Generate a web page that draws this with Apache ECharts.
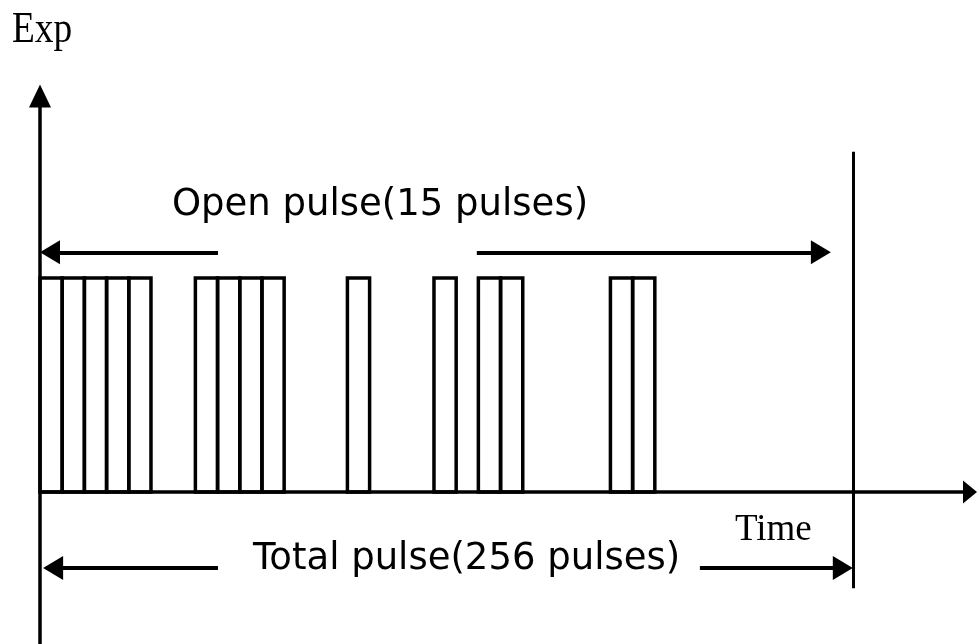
<!DOCTYPE html>
<html lang="en">
<head>
    <meta charset="UTF-8">
    <title>Open pulse / Total pulse</title>
    <style>
        html, body { margin: 0; padding: 0; background: #fff; }
        #app { width: 977px; height: 644px; }
    </style>
    <script src="https://cdn.jsdelivr.net/npm/echarts@6/dist/echarts.min.js"></script>
</head>
<body>
    <div id="app"></div>
    <script>
        // pulse slots (1 unit = one pulse width)
        var pulseStart = [0, 1, 2, 3, 4, 7, 8, 9, 10, 13.85, 17.75, 19.75, 20.75, 25.7, 26.7]
        var pulseWidth = 1
        var pulseLevel = 1
        var periodEnd = 36.62      // end of total period (256 pulses)
        var openArrowY = 1.12
        var totalArrowY = -0.355
        var openLabel = 'Open pulse(15 pulses)'
        var totalLabel = 'Total pulse(256 pulses)'
        var xName = 'Time'
        var yName = 'Exp'

        var pulseData = pulseStart.map(function (s) {
            return [s, s + pulseWidth, pulseLevel]
        })

        var mychart = echarts.init(document.getElementById('app'))

        function arrowLine(x0, x1, y, startArrow, endArrow) {
            return [
                { coord: [x0, y], symbol: startArrow ? 'triangle' : 'none', symbolSize: [24, 20] },
                { coord: [x1, y], symbol: endArrow ? 'triangle' : 'none', symbolSize: [24, 20] }
            ]
        }

        var option = {
            animation: false,
            grid: { left: 40, right: 7, top: 96, bottom: 0 },
            xAxis: {
                type: 'value',
                min: 0,
                max: 41.9,
                axisLine: {
                    onZero: true,
                    symbol: ['none', 'triangle'],
                    symbolSize: [23, 14],
                    lineStyle: { color: '#000', width: 3.5 }
                },
                axisTick: { show: false },
                axisLabel: { show: false },
                splitLine: { show: false }
            },
            yAxis: {
                type: 'value',
                min: -0.71,
                max: 1.85,
                axisLine: {
                    show: true,
                    symbol: ['none', 'triangle'],
                    symbolSize: [22, 23],
                    lineStyle: { color: '#000', width: 3.5 }
                },
                axisTick: { show: false },
                axisLabel: { show: false },
                splitLine: { show: false }
            },
            graphic: [
                { type: 'text', x: 12, y: 30, scaleX: 0.85,
                  style: { text: yName, fontFamily: 'Liberation Serif', fontSize: 44, fill: '#000',
                           textAlign: 'left', textVerticalAlign: 'middle', align: 'left', verticalAlign: 'middle' } },
                { type: 'text', x: 172, y: 205,
                  style: { text: openLabel, fontFamily: 'DejaVu Sans', fontSize: 37, fill: '#000',
                           textAlign: 'left', textVerticalAlign: 'middle', align: 'left', verticalAlign: 'middle' } },
                { type: 'text', x: 253, y: 559,
                  style: { text: totalLabel, fontFamily: 'DejaVu Sans', fontSize: 37, fill: '#000',
                           textAlign: 'left', textVerticalAlign: 'middle', align: 'left', verticalAlign: 'middle' } },
                { type: 'text', x: 735, y: 530,
                  style: { text: xName, fontFamily: 'Liberation Serif', fontSize: 37, fill: '#000',
                           textAlign: 'left', textVerticalAlign: 'middle', align: 'left', verticalAlign: 'middle' } }
            ],
            series: [{
                type: 'custom',
                data: pulseData,
                encode: { x: [0, 1], y: 2 },
                renderItem: function (params, api) {
                    var p0 = api.coord([api.value(0), api.value(2)])
                    var p1 = api.coord([api.value(1), 0])
                    return {
                        type: 'rect',
                        shape: { x: p0[0], y: p0[1], width: p1[0] - p0[0], height: p1[1] - p0[1] },
                        style: { fill: 'none', stroke: '#000', lineWidth: 3.5 }
                    }
                },
                markLine: {
                    silent: true,
                    animation: false,
                    label: { show: false },
                    emphasis: { disabled: true },
                    lineStyle: { color: '#000', width: 4, type: 'solid' },
                    data: [
                        arrowLine(0.45, 8.02, openArrowY, true, false),
                        arrowLine(19.68, 35.18, openArrowY, false, true),
                        arrowLine(0.59, 8.02, totalArrowY, true, false),
                        arrowLine(29.73, 36.17, totalArrowY, false, true),
                        [
                            { coord: [periodEnd, 1.59], symbol: 'none', lineStyle: { width: 3 } },
                            { coord: [periodEnd, -0.449], symbol: 'none', lineStyle: { width: 3 } }
                        ]
                    ]
                }
            }]
        }
        mychart.setOption(option)
    </script>
</body>
</html>
